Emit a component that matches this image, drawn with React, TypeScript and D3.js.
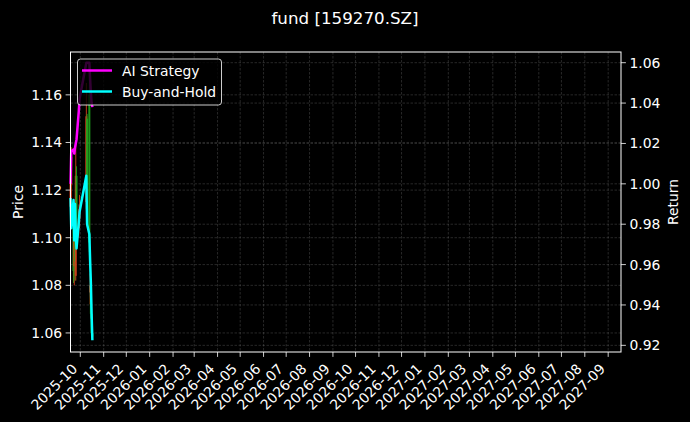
import React from "react";
import * as d3 from "d3";

// ---- data ----
const dates: string[] = [
  "2025-09-18", "2025-09-19", "2025-09-22", "2025-09-23", "2025-09-24", "2025-09-25",
  "2025-09-26", "2025-09-29", "2025-09-30", "2025-10-09", "2025-10-10", "2025-10-13",
  "2025-10-14", "2025-10-15", "2025-10-16", "2025-10-17",
];
const openP: number[] = [1.113, 1.122, 1.104, 1.088, 1.104, 1.084, 1.126, 1.104, 1.108, 1.115, 1.150, 1.160, 1.077, 1.080, 1.068, 1.060];
const highP: number[] = [1.126, 1.138, 1.108, 1.112, 1.108, 1.140, 1.130, 1.112, 1.118, 1.165, 1.152, 1.172, 1.085, 1.082, 1.070, 1.062];
const lowP: number[] = [1.110, 1.112, 1.081, 1.080, 1.082, 1.082, 1.098, 1.100, 1.104, 1.112, 1.118, 1.094, 1.072, 1.066, 1.058, 1.0578];
const closeP: number[] = [1.123, 1.134, 1.086, 1.104, 1.090, 1.126, 1.104, 1.108, 1.114, 1.151, 1.122, 1.098, 1.080, 1.068, 1.060, 1.0585];
const aiStrategy: number[] = [1.000, 1.016, 1.017, 1.015, 1.018, 1.020, 1.022, 1.036, 1.042, 1.060, 1.060, 1.060, 1.052, 1.045, 1.040, 1.038];
const buyHold: number[] = [0.993, 0.978, 0.992, 0.972, 0.990, 0.975, 0.968, 0.981, 0.986, 1.004, 0.980, 0.975, 0.962, 0.951, 0.935, 0.9225];
const priceTicks: number[] = [1.06, 1.08, 1.10, 1.12, 1.14, 1.16];
const returnTicks: number[] = [0.92, 0.94, 0.96, 0.98, 1.00, 1.02, 1.04, 1.06];
const xStart = "2025-09-18";
const xEnd = "2027-09-18";
const title = "fund [159270.SZ]";

const W = 690, H = 422;
const L = 70.5, R = 621, T = 52, B = 352;
const FONT = "DejaVu Sans, sans-serif";

export default function App() {
  const parse = d3.timeParse("%Y-%m-%d");
  const ds = dates.map((d) => parse(d) as Date);
  const x = d3.scaleTime().domain([parse(xStart) as Date, parse(xEnd) as Date]).range([L, R]);
  const yP = d3.scaleLinear().domain([1.052, 1.178]).range([B, T]);
  const yR = d3.scaleLinear().domain([0.9167, 1.0653]).range([B, T]);
  const months = d3.timeMonth.range(d3.timeMonth.ceil(x.domain()[0]), x.domain()[1]);
  const fmt = d3.timeFormat("%Y-%m");

  const lineGen = (vals: number[]) =>
    d3.line<number>().x((_, i) => x(ds[i])).y((v) => yR(v))(vals) || "";

  const grid = { stroke: "#b0b0b0", strokeOpacity: 0.38, strokeWidth: 0.6, strokeDasharray: "2.5,1.5" };

  return (
    <svg width={W} height={H} style={{ position: "absolute", left: 0, top: 0, background: "#000" }} fontFamily={FONT}>
      <rect x={0} y={0} width={W} height={H} fill="#000" />
      <text x={345} y={24} fill="#fff" fontSize={16.7} textAnchor="middle">{title}</text>
      {/* grid */}
      {months.map((m, i) => (
        <line key={"gx" + i} x1={x(m)} x2={x(m)} y1={T} y2={B} {...grid} />
      ))}
      {priceTicks.map((t, i) => (
        <line key={"gp" + i} x1={L} x2={R} y1={yP(t)} y2={yP(t)} {...grid} />
      ))}
      {returnTicks.map((t, i) => (
        <line key={"gr" + i} x1={L} x2={R} y1={yR(t)} y2={yR(t)} {...grid} />
      ))}
      {/* candles */}
      {ds.map((d, i) => {
        const up = closeP[i] >= openP[i];
        const c = up ? "#d8401c" : "#1fa81f";
        const cx = x(d);
        const y1 = yP(Math.max(openP[i], closeP[i]));
        const y2 = yP(Math.min(openP[i], closeP[i]));
        return (
          <g key={"c" + i} opacity={0.9}>
            <line x1={cx} x2={cx} y1={yP(highP[i])} y2={yP(lowP[i])} stroke={c} strokeWidth={1} />
            <rect x={cx - 1} y={y1} width={2} height={Math.max(0.8, y2 - y1)} fill={c} />
          </g>
        );
      })}
      {/* lines */}
      <path d={lineGen(aiStrategy)} fill="none" stroke="#ff00ff" strokeWidth={2.5} strokeLinejoin="round" />
      <path d={lineGen(buyHold)} fill="none" stroke="#00ffff" strokeWidth={2.5} strokeLinejoin="round" />
      {/* frame */}
      <rect x={L} y={T} width={R - L} height={B - T} fill="none" stroke="#fff" strokeWidth={1} />
      {/* left axis */}
      {priceTicks.map((t, i) => (
        <g key={"lp" + i}>
          <line x1={L - 4.9} x2={L} y1={yP(t)} y2={yP(t)} stroke="#fff" strokeWidth={0.8} />
          <text x={L - 8.4} y={yP(t)} fill="#fff" fontSize={13.9} textAnchor="end" dominantBaseline="central">
            {t.toFixed(2)}
          </text>
        </g>
      ))}
      {/* right axis */}
      {returnTicks.map((t, i) => (
        <g key={"rr" + i}>
          <line x1={R} x2={R + 4.9} y1={yR(t)} y2={yR(t)} stroke="#fff" strokeWidth={0.8} />
          <text x={R + 8.4} y={yR(t)} fill="#fff" fontSize={13.9} textAnchor="start" dominantBaseline="central">
            {t.toFixed(2)}
          </text>
        </g>
      ))}
      {/* x axis */}
      {months.map((m, i) => (
        <g key={"xm" + i}>
          <line x1={x(m)} x2={x(m)} y1={B} y2={B + 4.9} stroke="#fff" strokeWidth={0.8} />
          <text
            transform={`translate(${x(m) - 5.7},${B + 8.4 + 5.7}) rotate(-45)`}
            fill="#fff"
            fontSize={13.9}
            textAnchor="end"
            dominantBaseline="central"
          >
            {fmt(m)}
          </text>
        </g>
      ))}
      <text transform={`translate(17.5,${(T + B) / 2}) rotate(-90)`} fill="#fff" fontSize={13.9} textAnchor="middle" dominantBaseline="central">Price</text>
      <text transform={`translate(673,${(T + B) / 2}) rotate(-90)`} fill="#fff" fontSize={13.9} textAnchor="middle" dominantBaseline="central">Return</text>
      {/* legend */}
      <rect x={77.5} y={59} width={144} height={46} rx={3} fill="#000" fillOpacity={0.8} stroke="#fff" strokeOpacity={0.8} strokeWidth={1} />
      <line x1={82} x2={112} y1={70.5} y2={70.5} stroke="#ff00ff" strokeWidth={2.5} />
      <text x={122} y={70.5} fill="#fff" fontSize={13.9} dominantBaseline="central">AI Strategy</text>
      <line x1={82} x2={112} y1={91.5} y2={91.5} stroke="#00ffff" strokeWidth={2.5} />
      <text x={122} y={91.5} fill="#fff" fontSize={13.9} dominantBaseline="central">Buy-and-Hold</text>
    </svg>
  );
}
